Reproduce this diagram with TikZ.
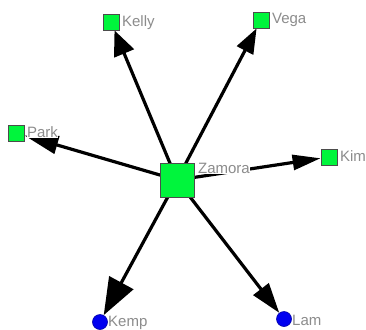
\documentclass[tikz,border=0pt]{standalone}
\usepackage{fontspec}
\setmainfont{Liberation Sans}
\usetikzlibrary{arrows.meta}
\pgfdeclarelayer{edges}
\pgfsetlayers{edges,main}
\definecolor{ngreen}{RGB}{0,245,60}
\definecolor{nblue}{RGB}{0,0,240}
\definecolor{lblgray}{RGB}{140,140,140}
\tikzset{
  sq/.style={draw=black!70, line width=0.8pt, fill=ngreen, minimum size=16pt, inner sep=0pt},
  bigsq/.style={sq, minimum size=34pt},
  dot/.style={circle, draw=nblue!70!black, line width=0.6pt, fill=nblue, minimum size=15pt, inner sep=0pt},
  lbl/.style={anchor=north west, fill=white, inner sep=0.5pt, text=lblgray, font=\fontsize{15}{17}\selectfont},
  edge/.style={line width=3.2pt}
}
\begin{document}
\begin{tikzpicture}[x=1pt,y=-1pt]
\useasboundingbox (0,0) rectangle (366,329);
\node[bigsq] (zam) at (177,180) {};
\node[sq] (kelly) at (111,22) {};
\node[sq] (vega) at (261,20) {};
\node[sq] (park) at (16,133) {};
\node[sq] (kim) at (329,157) {};
\node[dot] (kemp) at (100,322) {};
\node[dot] (lam) at (284,319) {};
\begin{pgfonlayer}{edges}
\draw[edge, -{Triangle[length=25pt,width=21pt]}] (zam.center) -- (kelly);
\draw[edge, -{Triangle[length=25pt,width=18pt]}] (zam.center) -- (vega);
\draw[edge, -{Triangle[length=34pt,width=18pt]}] (zam.center) -- (park);
\draw[edge, -{Triangle[length=28pt,width=15pt]}] (zam.center) -- (kim);
\draw[edge, -{Triangle[length=37pt,width=27pt]}] (zam.center) -- (kemp);
\draw[edge, -{Triangle[length=30pt,width=19pt]}] (zam.center) -- (lam);
\end{pgfonlayer}
\node[lbl] (lzam) at ([xshift=3pt]zam.north east) {Zamora};
\node[lbl] (lkelly) at ([xshift=2pt,yshift=-1pt]kelly.north east) {Kelly};
\node[lbl] (lvega) at ([xshift=2pt,yshift=-1pt]vega.north east) {Vega};
\node[lbl] (lpark) at ([xshift=2pt,yshift=-1pt]park.north east) {Park};
\node[lbl] (lkim) at ([xshift=2pt,yshift=-1pt]kim.north east) {Kim};
\node[lbl] (lkemp) at ([xshift=2pt,yshift=1pt]kemp.north east) {Kemp};
\node[lbl] (llam) at ([xshift=2pt,yshift=-1pt]lam.north east) {Lam};
\end{tikzpicture}
\end{document}
